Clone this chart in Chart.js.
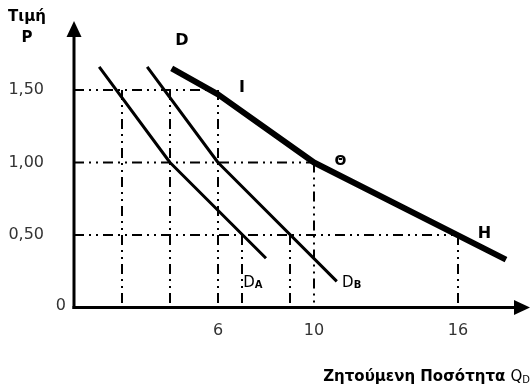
<!DOCTYPE html>
<html>
<head>
<meta charset="utf-8">
<script src="https://cdn.jsdelivr.net/npm/chart.js@4/dist/chart.umd.min.js"></script>
<style>
  html, body { margin: 0; padding: 0; background: #fff; }
  #chart { display: block; }
</style>
</head>
<body>
<canvas id="chart" width="531" height="387"></canvas>
<script>
// demand curves (quantity, price)
const demandA_Q = [1.05, 4, 8.0];
const demandA_P = [1.66, 1.0, 0.34];
const demandB_Q = [3.05, 6, 10.95];
const demandB_P = [1.66, 1.0, 0.18];
const demandTotal_Q = [4.07, 6, 10, 18.0];
const demandTotal_P = [1.65, 1.47, 1.0, 0.33];

// dash-dot guide lines
const hGuidePrice = [1.5, 1.0, 0.5];
const hGuideEndQ = [6, 10, 16];
const vGuideQ = [2, 4, 6, 7, 9, 10, 16];
const vGuideTopP = [1.5, 1.5, 1.5, 0.5, 0.5, 1.0, 0.5];

// ticks
const yTickValues = [0.5, 1.0, 1.5];
const yTickLabels = ['0,50', '1,00', '1,50'];
const xTickValues = [6, 10, 16];
const xTickLabels = ['6', '10', '16'];

// point labels
const pointLabelText = ['D', 'I', 'Θ', 'H'];
const pointLabelQ = [4.5, 7.0, 11.1, 17.1];
const pointLabelP = [1.84, 1.515, 1.01, 0.51];

const curveLabelMain = ['D', 'D'];
const curveLabelSub = ['A', 'B'];
const curveLabelQ = [7.05, 11.17];
const curveLabelP = [0.168, 0.168];

const xMax = 19;
const yMax = 1.976;

function toPoints(qs, ps) {
  return qs.map((q, i) => ({ x: q, y: ps[i] }));
}

const datasets = [
  { data: toPoints(demandTotal_Q, demandTotal_P), borderColor: '#000', borderWidth: 6 },
  { data: toPoints(demandB_Q, demandB_P), borderColor: '#000', borderWidth: 3 },
  { data: toPoints(demandA_Q, demandA_P), borderColor: '#000', borderWidth: 3 }
];

const guideDash = [10, 5, 2, 5, 2, 5];
hGuidePrice.forEach((p, i) => {
  datasets.push({
    data: [{ x: 0, y: p }, { x: hGuideEndQ[i], y: p }],
    borderColor: '#000', borderWidth: 2, borderDash: guideDash
  });
});
vGuideQ.forEach((q, i) => {
  datasets.push({
    data: [{ x: q, y: vGuideTopP[i] }, { x: q, y: 0 }],
    borderColor: '#000', borderWidth: 2, borderDash: guideDash
  });
});

const FONT = '"DejaVu Sans", sans-serif';

const axesAndText = {
  id: 'axesAndText',
  afterDatasetsDraw(chart) {
    const ctx = chart.ctx;
    const xs = chart.scales.x;
    const ys = chart.scales.y;
    const x0 = xs.getPixelForValue(0);
    const y0 = ys.getPixelForValue(0);
    const xEnd = xs.getPixelForValue(xMax);
    const yEnd = ys.getPixelForValue(yMax);

    ctx.save();
    ctx.strokeStyle = '#000';
    ctx.fillStyle = '#000';
    ctx.lineWidth = 3;
    // y axis
    ctx.beginPath();
    ctx.moveTo(x0, y0 + 1.5);
    ctx.lineTo(x0, yEnd + 14);
    ctx.stroke();
    ctx.beginPath();
    ctx.moveTo(x0, yEnd);
    ctx.lineTo(x0 - 7.5, yEnd + 16);
    ctx.lineTo(x0 + 7.5, yEnd + 16);
    ctx.closePath();
    ctx.fill();
    // x axis
    ctx.beginPath();
    ctx.moveTo(x0 - 1.5, y0);
    ctx.lineTo(xEnd - 14, y0);
    ctx.stroke();
    ctx.beginPath();
    ctx.moveTo(xEnd, y0);
    ctx.lineTo(xEnd - 16, y0 - 7.5);
    ctx.lineTo(xEnd - 16, y0 + 7.5);
    ctx.closePath();
    ctx.fill();

    // tick labels
    ctx.font = '16px ' + FONT;
    ctx.fillStyle = '#333';
    ctx.textAlign = 'right';
    ctx.textBaseline = 'middle';
    yTickValues.forEach((v, i) => {
      ctx.fillText(yTickLabels[i], x0 - 30, ys.getPixelForValue(v));
    });
    ctx.fillText('0', x0 - 8, y0 - 2);
    ctx.textAlign = 'center';
    xTickValues.forEach((v, i) => {
      ctx.fillText(xTickLabels[i], xs.getPixelForValue(v), y0 + 23);
    });

    // point labels
    ctx.fillStyle = '#000';
    pointLabelText.forEach((t, i) => {
      ctx.font = (t === 'Θ' ? 'bold 14px ' : 'bold 16px ') + FONT;
      ctx.fillText(t, xs.getPixelForValue(pointLabelQ[i]), ys.getPixelForValue(pointLabelP[i]));
    });

    // curve labels with subscripts
    ctx.textAlign = 'left';
    curveLabelMain.forEach((t, i) => {
      const px = xs.getPixelForValue(curveLabelQ[i]);
      const py = ys.getPixelForValue(curveLabelP[i]);
      ctx.font = '15px ' + FONT;
      ctx.fillText(t, px, py);
      const w = ctx.measureText(t).width;
      ctx.font = 'bold 10px ' + FONT;
      ctx.fillText(curveLabelSub[i], px + w, py + 2);
    });

    // axis titles
    ctx.textAlign = 'center';
    ctx.font = 'bold 15px ' + FONT;
    ctx.fillText('Τιμή', 27, 17);
    ctx.fillText('P', 27, 38);

    ctx.textAlign = 'right';
    ctx.font = '10px ' + FONT;
    const dW = ctx.measureText('D').width;
    ctx.fillText('D', 530, 380);
    ctx.font = '15px ' + FONT;
    const qW = ctx.measureText('Q').width;
    ctx.fillText('Q', 530 - dW, 377);
    ctx.font = 'bold 15px ' + FONT;
    ctx.fillText('Ζητούμενη Ποσότητα ', 530 - dW - qW, 377);
    ctx.restore();
  }
};

new Chart(document.getElementById('chart').getContext('2d'), {
  type: 'line',
  data: { datasets: datasets },
  options: {
    responsive: false,
    animation: false,
    layout: { padding: { left: 74, right: 1, top: 21, bottom: 79.5 } },
    elements: {
      point: { radius: 0, hoverRadius: 0 },
      line: { tension: 0, fill: false, borderCapStyle: 'butt', borderJoinStyle: 'round' }
    },
    scales: {
      x: { type: 'linear', min: 0, max: xMax, display: false },
      y: { type: 'linear', min: 0, max: yMax, display: false }
    },
    plugins: {
      legend: { display: false },
      tooltip: { enabled: false }
    }
  },
  plugins: [axesAndText]
});
</script>
</body>
</html>
